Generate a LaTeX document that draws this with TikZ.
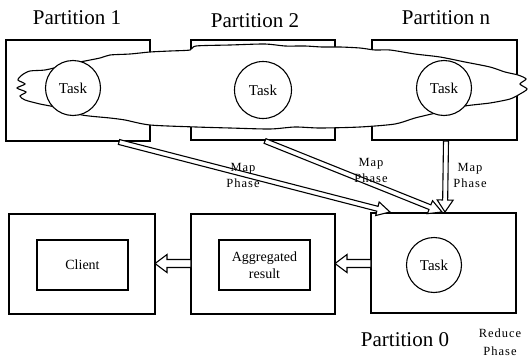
\documentclass[tikz,border=0pt]{standalone}
\usepackage{fontspec}
\setmainfont{Liberation Serif}
\usetikzlibrary{calc}
\tikzset{
  box/.style={draw, line width=1.2pt, inner sep=0pt, outer sep=0pt, fill=white},
  task/.style={circle, draw, line width=1.1pt, fill=white, minimum size=55pt, inner sep=0pt, font=\fontsize{15}{15}\selectfont},
  plabel/.style={font=\fontsize{21}{21}\selectfont, inner sep=0pt},
  small/.style={font=\fontsize{12.5}{16}\selectfont\addfontfeatures{LetterSpace=8}, align=center, inner sep=0pt},
  inner/.style={font=\fontsize{14}{17}\selectfont, align=center},
  harrow/.style n args={3}{draw, line width=1.1pt, fill=white, line join=miter,
    to path={let \p1=(\tikztostart), \p2=(\tikztotarget), \n1={atan2(\y2-\y1,\x2-\x1)},
      \p3=($(\p2)+(\n1+180:#3)$) in
      ($(\p1)+(\n1+90:#1)$) -- ($(\p3)+(\n1+90:#1)$) -- ($(\p3)+(\n1+90:#2)$) -- (\p2)
      -- ($(\p3)+(\n1-90:#2)$) -- ($(\p3)+(\n1-90:#1)$) -- ($(\p1)+(\n1-90:#1)$) -- cycle}},
  cloud/.style={draw, line width=1.1pt, fill=white},
}
\begin{document}
\begin{tikzpicture}[x=1pt, y=-1pt]
\useasboundingbox (0,0) rectangle (531,359);
% top partition boxes
\node[box, anchor=north west, minimum width=144pt, minimum height=101pt] (p1) at (6,40) {};
\node[box, anchor=north west, minimum width=144pt, minimum height=100pt] (p2) at (191,40) {};
\node[box, anchor=north west, minimum width=145pt, minimum height=100pt] (pn) at (372,40) {};
% cloud
\draw[cloud] plot[smooth cycle, tension=0.45] coordinates {
 (30,71) (45,70) (62,66) (80,62) (100,58) (110,55) (130,54) (150,52) (170,51) (190,50) (196,46) (230,45)
 (265,44) (285,46) (305,46) (322,47) (340,47) (360,48) (375,50) (390,50) (415,54) (440,57) (465,62) (490,67)
 (505,72) (518,75) (526,79) (520,84) (527,89) (520,94) (510,99) (490,103) (465,106)
 (440,112) (415,118) (395,124) (360,127) (320,128) (295,127) (270,129) (230,128) (196,127)
 (150,125) (125,120) (110,118) (82,115) (60,108) (40,104) (25,100) (20,96) (26,92)
 (17,88) (25,84) (18,80) (22,75)};
\node[task] (t1) at (73,88) {Task};
\node[task, minimum size=57pt] (t2) at (263,90) {Task};
\node[task] (tn) at (444,88) {Task};
% labels
\node[plabel] (l1) at (77,18) {Partition 1};
\node[plabel] (l2) at (255,21) {Partition 2};
\node[plabel] (ln) at (446,18) {Partition n};
% bottom boxes
\node[box, anchor=north west, minimum width=146pt, minimum height=100pt] (cl) at (9,214) {};
\node[box, inner, anchor=north west, minimum width=91pt, minimum height=50pt] (cli) at (37,240) {Client};
\node[box, anchor=north west, minimum width=144pt, minimum height=100pt] (ag) at (191,214) {};
\node[box, inner, anchor=north west, minimum width=91pt, minimum height=50pt] (agi) at (219,240) {Aggregated\\result};
\node[box, anchor=north west, minimum width=145pt, minimum height=100pt] (p0) at (371,213) {};
\node[task] (t0) at (434,265) {Task};
\node[plabel] (l0) at (405,340) {Partition 0};
\node[small, font=\fontsize{12.5}{18}\selectfont\addfontfeatures{LetterSpace=8}] (rp) at (500,342) {Reduce\\Phase};
% map arrows
\coordinate (a1s) at (119,142);
\coordinate (a1e) at (390,212);
\coordinate (a2s) at (265,141);
\coordinate (a2e) at (442,212);
\coordinate (a3s) at (446,141);
\coordinate (a3e) at (445,212);
\draw[harrow={2.5pt}{7pt}{13pt}] (a1s) to (a1e);
\draw[harrow={2.5pt}{7pt}{13pt}] (a2s) to (a2e);
\draw[harrow={2.5pt}{8pt}{12pt}] (a3s) to (a3e);
\node[small] (m1) at (243,175) {Map\\Phase};
\node[small] (m2) at (371,170) {Map\\Phase};
\node[small] (m3) at (470,175) {Map\\Phase};
% reduce arrows
\draw[harrow={4pt}{9pt}{12pt}] (p0.west |- 0,263.5) to (ag.east |- 0,263.5);
\draw[harrow={4pt}{9pt}{12pt}] (ag.west |- 0,263.5) to (cl.east |- 0,263.5);
\end{tikzpicture}
\end{document}
